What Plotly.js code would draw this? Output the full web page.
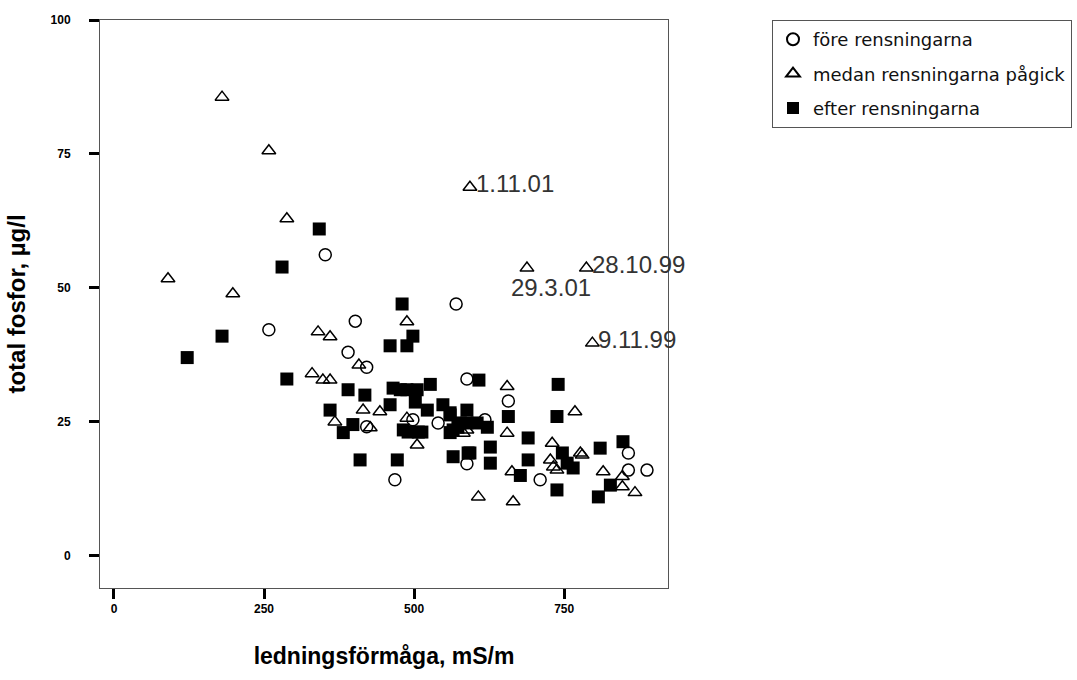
<!DOCTYPE html>
<html><head><meta charset="utf-8">
<script src="https://cdn.plot.ly/plotly-3.0.1.min.js"></script>
<style>html,body{margin:0;padding:0;background:#fff}#c{width:1077px;height:680px}</style>
</head><body><div id="c"></div>
<script>
// före rensningarna (circles)
const foreX = [258,352,402,390,421,570,588,657,421,498,540,468,588,618,710,857,857,888];
const foreY = [42.2,56.2,43.8,38,35.2,47,33,28.9,24.1,25.4,24.8,14.2,17.2,25.4,14.2,19.2,16,16];
// medan rensningarna pågick (triangles)
const medanX = [180,258,288,90,198,488,340,360,408,330,348,360,593,688,787,797,655,655,730,727,738,777,663,607,665,768,780,588,415,443,368,427,488,505,582,815,847,847,868,732];
const medanY = [85.6,75.6,62.9,51.7,48.9,43.7,41.8,40.9,35.6,34,32.8,32.8,68.8,53.7,53.7,39.7,31.6,22.9,21,17.9,16,19.2,15.7,11,10.1,26.9,18.8,23.5,27.2,26.9,25,23.9,25.7,20.7,22.9,15.7,14.8,12.9,11.8,16.6];
// efter rensningarna (squares)
const efterX = [342,280,480,180,498,488,460,122,288,390,418,465,488,527,502,548,460,360,398,382,490,513,560,577,565,410,472,565,590,627,627,608,740,657,738,690,690,677,738,747,755,765,810,848,827,807,588,588,622,477,505,522,560,573,605,560,593,482,507];
const efterY = [61,53.9,47,41,41,39.2,39.2,37,33,31,30,31.3,31,32,28.7,28.2,28.2,27.2,24.5,23,23.1,23.1,26.3,24.8,23.5,17.9,17.9,18.5,19.2,20.3,17.3,32.8,32,26,26,22,17.9,15,12.3,19.2,17.3,16.4,20.1,21.3,13.2,11,27.2,24.8,24,31,31,27.2,26.7,24,24.8,23,19.2,23.5,23.1];
// labelled points
const labelText = ["1.11.01","28.10.99","29.3.01","9.11.99"];
const labelX = [593,787,665,797];
const labelY = [68.8,53.7,50,39.7];

const seriesNames = ["före rensningarna","medan rensningarna pågick","efter rensningarna"];
const xTicks = [0,250,500,750];
const yTicks = [0,25,50,75,100];

const traces = [
  {x: foreX, y: foreY, name: seriesNames[0], legendgroup: 'a', type: 'scatter', mode: 'markers',
   marker: {symbol: 'circle-open', size: 12, color: '#000', line: {width: 1.5, color: '#000'}}},
  {x: medanX, y: medanY, name: seriesNames[1], legendgroup: 'b', type: 'scatter', mode: 'markers',
   marker: {symbol: 'triangle-up-open', size: 12, color: '#000', line: {width: 1.5, color: '#000'}}},
  {x: efterX, y: efterY, name: seriesNames[2], legendgroup: 'c', type: 'scatter', mode: 'markers',
   marker: {symbol: 'square', size: 13, color: '#000', line: {width: 0}}}
];

const annotations = labelText.map((t, i) => ({
  x: labelX[i], y: labelY[i], xref: 'x', yref: 'y', text: t, showarrow: false,
  xanchor: 'left', yanchor: 'middle', xshift: i === 2 ? -4 : 4, yshift: i === 2 ? 0 : 4,
  font: {family: 'Liberation Sans, Arial, sans-serif', size: 24, color: '#333'}
}));

const layout = {
  width: 1077, height: 680,
  margin: {l: 100, r: 409, t: 20, b: 92, pad: 0, autoexpand: false},
  paper_bgcolor: '#fff', plot_bgcolor: '#fff',
  font: {family: 'Liberation Sans, Arial, sans-serif', color: '#000'},
  showlegend: true,
  legend: {xref: 'container', yref: 'container', x: 772/1077, y: 1 - 20/680,
    xanchor: 'left', yanchor: 'top', bgcolor: '#fff',
    bordercolor: '#555', borderwidth: 1,
    font: {size: 18, family: 'DejaVu Sans, sans-serif', color: '#111'},
    itemsizing: 'constant', tracegroupgap: 8},
  xaxis: {range: [-23.3, 923], tickvals: xTicks, ticktext: xTicks.map(String), automargin: false,
    showgrid: false, zeroline: false, showline: true, mirror: true, linecolor: '#555', linewidth: 1,
    ticks: 'outside', ticklen: 10, tickwidth: 3, tickcolor: '#000',
    tickfont: {size: 12, family: 'Liberation Sans, Arial, sans-serif', weight: 'bold'},
    title: {text: 'ledningsförmåga, mS/m', standoff: 32,
      font: {size: 23, family: 'Liberation Sans, Arial, sans-serif', weight: 'bold'}}},
  yaxis: {range: [-6, 100], tickvals: yTicks, ticktext: yTicks.map(String), automargin: false,
    showgrid: false, zeroline: false, showline: true, mirror: true, linecolor: '#555', linewidth: 1,
    ticks: 'outside', ticklen: 10, tickwidth: 3, tickcolor: '#000', ticklabelstandoff: 16,
    tickfont: {size: 12, family: 'Liberation Sans, Arial, sans-serif', weight: 'bold'},
    title: {text: 'total fosfor, µg/l', standoff: 18,
      font: {size: 24, family: 'Liberation Sans, Arial, sans-serif', weight: 'bold'}}},
  annotations: annotations
};

Plotly.newPlot('c', traces, layout, {displayModeBar: false, staticPlot: true});
</script></body></html>
